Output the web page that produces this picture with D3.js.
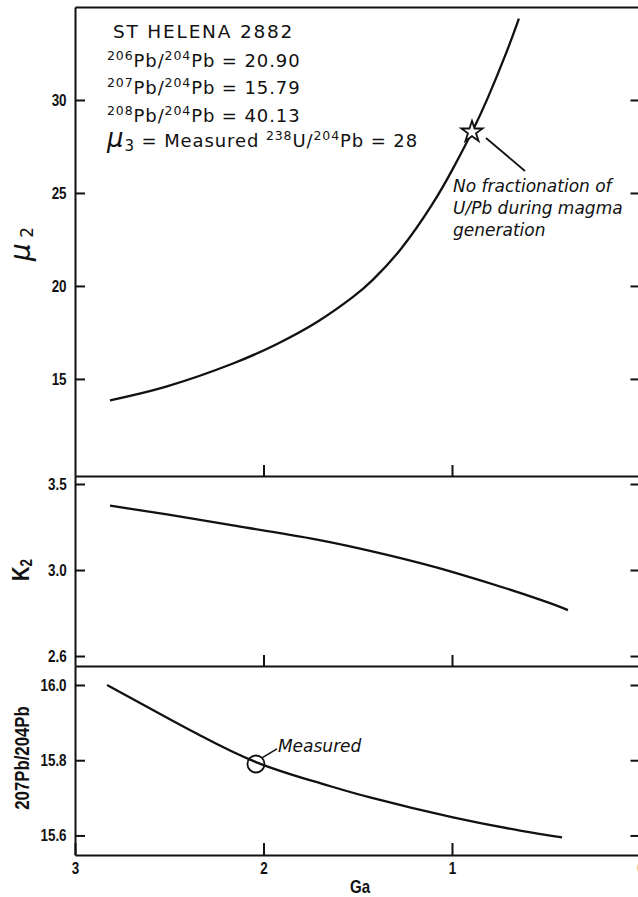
<!DOCTYPE html>
<html>
<head>
<meta charset="utf-8">
<script src="https://d3js.org/d3.v7.min.js"></script>
<style>
  body { margin: 0; background: #fff; }
  svg { display: block; }
  .tick text { font-family: "Liberation Sans", Arial, sans-serif; font-weight: bold; font-size: 16px; fill: #111; }
  .note { font-family: "DejaVu Sans", sans-serif; fill: #111; }
  .narrow { font-family: "Liberation Sans", Arial, sans-serif; font-weight: bold; fill: #111; }
</style>
</head>
<body>
<svg></svg>
<script>
// values, ages in Ga before present
var muAges   = [2.814, 2.512, 2.162, 1.928, 1.716, 1.525, 1.419, 1.271, 1.106, 0.995, 0.894, 0.809, 0.714, 0.645];
var muValues = [13.85, 14.60, 15.83, 16.88, 18.06, 19.41, 20.34, 21.99, 24.37, 26.31, 28.28, 30.14, 32.49, 34.38];

var kappaAges   = [2.814, 2.512, 2.162, 1.716, 1.355, 0.995, 0.549, 0.385];
var kappaValues = [3.374, 3.323, 3.259, 3.177, 3.091, 2.988, 2.834, 2.767];

var pbAges   = [2.83, 2.48, 2.34, 2.04, 1.70, 1.435, 0.995, 0.639, 0.416];
var pbValues = [16.00, 15.904, 15.867, 15.795, 15.739, 15.701, 15.648, 15.613, 15.595];

// marked points
var noFracAge = 0.894, noFracMu = 28.28;
var measuredAge = 2.04, measuredPb = 15.79;

// tick values / labels
var ageTicks = [3, 2, 1, 0];
var muTicks = [15, 20, 25, 30];
var kappaTicks = [3.5, 3.0, 2.5];
var kappaTickLabels = ["3.5", "3.0", "2.6"];
var pbTicks = [16.0, 15.8, 15.6];

// header text
var sampleName = "ST  HELENA 2882";
var ratioNumerators = ["206", "207", "208"];
var ratioValues = ["20.90", "15.79", "40.13"];
var measuredMu = "28";

var svg = d3.select('svg').attr('width', 638).attr('height', 897);

var xLeft = 75, xRight = 640.5;
var x = d3.scaleLinear().domain([3, 0]).range([xLeft, xRight]);
var yMu = d3.scaleLinear().domain([9.78, 35.0]).range([476, 7]);
var yKappa = d3.scaleLinear().domain([2.442, 3.5465]).range([666, 476]);
var yPb = d3.scaleLinear().domain([15.548, 16.0505]).range([855, 666]);

var squeeze = 'scale(0.84,1)';

function styleAxis(g) {
  g.attr('font-family', null).attr('font-size', null);
  g.selectAll('.domain').attr('stroke', '#111').attr('stroke-width', 2);
  g.selectAll('.tick line').attr('stroke', '#111').attr('stroke-width', 2);
  g.selectAll('.tick text').attr('transform', squeeze);
}

function sideAxes(scale, vals, labels) {
  svg.append('g')
    .attr('transform', `translate(${xLeft},0)`)
    .call(d3.axisLeft(scale).tickValues(vals).tickSize(-10).tickSizeOuter(0).tickPadding(10)
      .tickFormat((d, i) => labels[i]))
    .call(styleAxis);
  svg.append('g')
    .attr('transform', `translate(${xRight},0)`)
    .call(d3.axisRight(scale).tickValues(vals).tickSize(-10).tickSizeOuter(0).tickFormat(''))
    .call(styleAxis);
}

sideAxes(yMu, muTicks, muTicks.map(String));
sideAxes(yKappa, kappaTicks, kappaTickLabels);
sideAxes(yPb, pbTicks, pbTicks.map(d3.format('.1f')));

// top border and panel dividers
svg.append('g').attr('transform', 'translate(0,7)')
  .call(d3.axisTop(x).tickValues([]).tickSizeOuter(0)).call(styleAxis);
[476, 666].forEach(yy => {
  svg.append('g').attr('transform', `translate(0,${yy})`)
    .call(d3.axisBottom(x).tickValues([2, 1]).tickSize(-11).tickSizeOuter(0).tickFormat(''))
    .call(styleAxis);
});
svg.append('g').attr('transform', 'translate(0,855)')
  .call(d3.axisBottom(x).tickValues(ageTicks).tickSize(-12).tickSizeOuter(0).tickPadding(8)
    .tickFormat(d3.format('d')))
  .call(styleAxis);

// curves
function curve(ages, vals, yScale) {
  var pts = ages.map((a, i) => [a, vals[i]]);
  svg.append('path')
    .datum(pts)
    .attr('fill', 'none')
    .attr('stroke', '#111')
    .attr('stroke-width', 2.3)
    .attr('d', d3.line().x(d => x(d[0])).y(d => yScale(d[1])).curve(d3.curveNatural));
}
curve(muAges, muValues, yMu);
curve(kappaAges, kappaValues, yKappa);
curve(pbAges, pbValues, yPb);

// star: no fractionation
var sx = x(noFracAge), sy = yMu(noFracMu);
svg.append('path')
  .attr('transform', `translate(${sx},${sy})`)
  .attr('d', d3.symbol(d3.symbolStar, 140)())
  .attr('fill', '#fff').attr('stroke', '#111').attr('stroke-width', 1.8);
svg.append('line')
  .attr('x1', sx + 14).attr('y1', sy + 6).attr('x2', sx + 53).attr('y2', sy + 39)
  .attr('stroke', '#111').attr('stroke-width', 1.8);
var noteLines = ["No fractionation of", "U/Pb during magma", "generation"];
svg.append('g').selectAll('text').data(noteLines).enter().append('text')
  .attr('class', 'note')
  .attr('x', 453).attr('y', (d, i) => 192 + i * 22)
  .attr('font-size', 17).attr('font-style', 'italic')
  .text(d => d);

// measured circle
var mx = x(measuredAge), my = yPb(measuredPb);
svg.append('circle').attr('cx', mx).attr('cy', my).attr('r', 8.5)
  .attr('fill', 'none').attr('stroke', '#111').attr('stroke-width', 1.8);
svg.append('line')
  .attr('x1', mx + 6).attr('y1', my - 6).attr('x2', mx + 21).attr('y2', my - 15)
  .attr('stroke', '#111').attr('stroke-width', 1.5);
svg.append('text').attr('class', 'note')
  .attr('x', mx + 22).attr('y', my - 12)
  .attr('font-size', 17).attr('font-style', 'italic')
  .text('Measured');

// header block
svg.append('text').attr('class', 'note')
  .attr('x', 113).attr('y', 38).attr('font-size', 18.5).attr('letter-spacing', 1.8)
  .text(sampleName);

ratioNumerators.forEach((n, i) => {
  var t = svg.append('text').attr('class', 'note')
    .attr('x', 107).attr('y', 66.5 + i * 27.5).attr('font-size', 18).attr('letter-spacing', 0.9);
  t.append('tspan').attr('font-size', 12.5).attr('dy', -7).text(n);
  t.append('tspan').attr('dy', 7).text('Pb/');
  t.append('tspan').attr('font-size', 12.5).attr('dy', -7).text('204');
  t.append('tspan').attr('dy', 7).text('Pb = ' + ratioValues[i]);
});

var mu = svg.append('text').attr('class', 'note')
  .attr('x', 107).attr('y', 147).attr('font-size', 18).attr('letter-spacing', 0.9);
mu.append('tspan').attr('font-size', 26).attr('font-style', 'italic').text('\u03bc');
mu.append('tspan').attr('font-size', 15).attr('dy', 4).text('3');
mu.append('tspan').attr('dy', -4).text(' = Measured ');
mu.append('tspan').attr('font-size', 12.5).attr('dy', -7).text('238');
mu.append('tspan').attr('dy', 7).text('U/');
mu.append('tspan').attr('font-size', 12.5).attr('dy', -7).text('204');
mu.append('tspan').attr('dy', 7).text('Pb = ' + measuredMu);

// axis titles
var muLab = svg.append('text').attr('class', 'note')
  .attr('transform', 'translate(30,244) rotate(-90)').attr('text-anchor', 'middle');
muLab.append('tspan').attr('font-size', 28).attr('font-style', 'italic').text('\u03bc');
muLab.append('tspan').attr('font-size', 17).attr('dy', 3).text(' 2');

var kLab = svg.append('text').attr('class', 'narrow')
  .attr('transform', 'translate(29,570) rotate(-90) ' + squeeze).attr('text-anchor', 'middle');
kLab.append('tspan').attr('font-size', 24).text('K');
kLab.append('tspan').attr('font-size', 16).attr('dy', 3).text('2');

svg.append('text').attr('class', 'narrow')
  .attr('transform', 'translate(29,758) rotate(-90) ' + squeeze).attr('text-anchor', 'middle')
  .attr('font-size', 20)
  .text('207Pb/204Pb');

svg.append('text').attr('class', 'narrow')
  .attr('transform', 'translate(360,893) ' + squeeze).attr('text-anchor', 'middle')
  .attr('font-size', 18)
  .text('Ga');
</script>
</body>
</html>
